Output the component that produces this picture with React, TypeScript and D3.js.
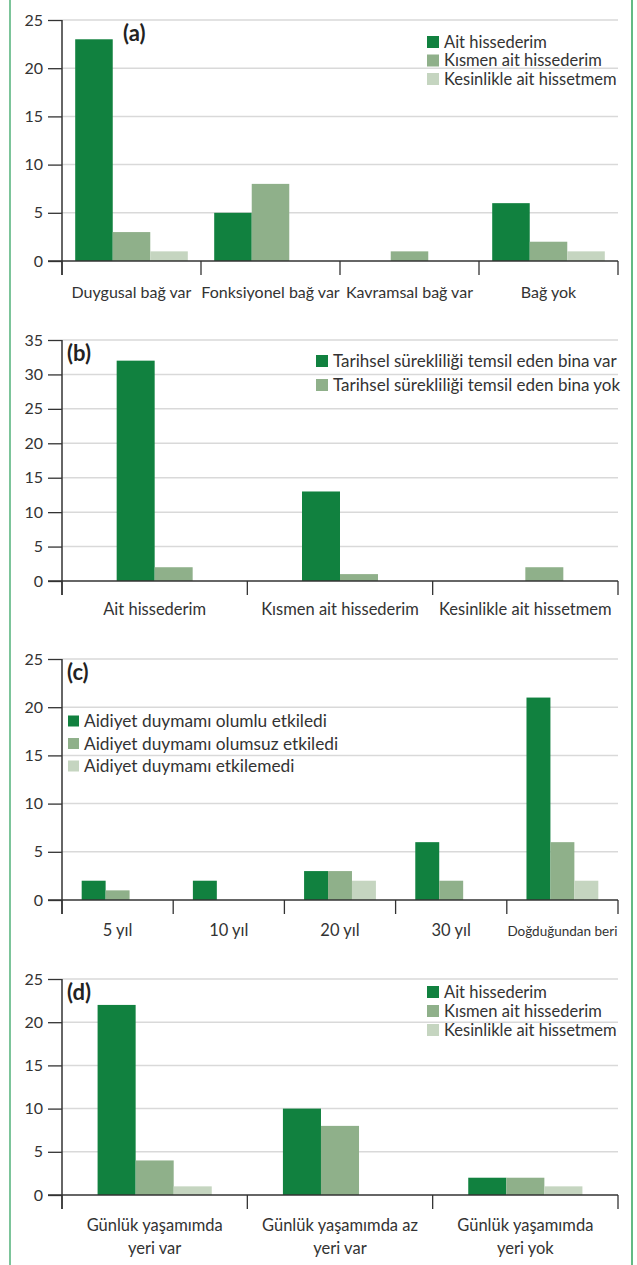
import React, { useEffect, useRef } from 'react';
import * as d3 from 'd3';

// (a)
const catsA = ['Duygusal bağ var', 'Fonksiyonel bağ var', 'Kavramsal bağ var', 'Bağ yok'];
const seriesA = ['Ait hissederim', 'Kısmen ait hissederim', 'Kesinlikle ait hissetmem'];
const aitA = [23, 5, 0, 6];
const kismenA = [3, 8, 1, 2];
const kesinA = [1, 0, 0, 1];

// (b)
const catsB = ['Ait hissederim', 'Kısmen ait hissederim', 'Kesinlikle ait hissetmem'];
const seriesB = ['Tarihsel sürekliliği temsil eden bina var', 'Tarihsel sürekliliği temsil eden bina yok'];
const binaVar = [32, 13, 0];
const binaYok = [2, 1, 2];

// (c)
const catsC = ['5 yıl', '10 yıl', '20 yıl', '30 yıl', 'Doğduğundan beri'];
const seriesC = ['Aidiyet duymamı olumlu etkiledi', 'Aidiyet duymamı olumsuz etkiledi', 'Aidiyet duymamı etkilemedi'];
const olumlu = [2, 2, 3, 6, 21];
const olumsuz = [1, 0, 3, 2, 6];
const etkilemedi = [0, 0, 2, 0, 2];

// (d)
const catsD = ['Günlük yaşamımda\nyeri var', 'Günlük yaşamımda az\nyeri var', 'Günlük yaşamımda\nyeri yok'];
const aitD = [22, 10, 2];
const kismenD = [4, 8, 2];
const kesinD = [1, 0, 1];

const ticksAC = [0, 5, 10, 15, 20, 25];
const ticksB = [0, 5, 10, 15, 20, 25, 30, 35];

const colors = ['#11813f', '#8fb08a', '#c5d5c0'];
const FONT = 'Lato, "Open Sans", sans-serif';

type Panel = {
  tag: string;
  tagX: number;
  top: number;
  bottom: number;
  max: number;
  ticks: number[];
  cats: string[];
  values: number[][];
  series: string[];
  slots: number;
  pad: number;
  legend: { x: number; y: number; step: number; size: number; font: number };
  labelY: number;
  labelFont: (c: string) => number;
};

const panels: Panel[] = [
  {
    tag: '(a)', tagX: 123, top: 20, bottom: 261, max: 25, ticks: ticksAC, cats: catsA,
    values: [aitA, kismenA, kesinA], series: seriesA, slots: 3, pad: 0.095,
    legend: { x: 427, y: 42, step: 18.5, size: 12, font: 16.5 }, labelY: 298,
    labelFont: () => 16,
  },
  {
    tag: '(b)', tagX: 67, top: 340, bottom: 581, max: 35, ticks: ticksB, cats: catsB,
    values: [binaVar, binaYok], series: seriesB, slots: 2, pad: 0.295,
    legend: { x: 316, y: 361, step: 24, size: 12, font: 17 }, labelY: 615,
    labelFont: () => 16.5,
  },
  {
    tag: '(c)', tagX: 67, top: 659, bottom: 900, max: 25, ticks: ticksAC, cats: catsC,
    values: [olumlu, olumsuz, etkilemedi], series: seriesC, slots: 3, pad: 0.177,
    legend: { x: 68, y: 721, step: 22.5, size: 11, font: 17.3 }, labelY: 936,
    labelFont: (c) => (c.length > 10 ? 13.5 : 16.5),
  },
  {
    tag: '(d)', tagX: 67, top: 979, bottom: 1195, max: 25, ticks: ticksAC, cats: catsD,
    values: [aitD, kismenD, kesinD], series: seriesA, slots: 3, pad: 0.192,
    legend: { x: 427, y: 992, step: 19, size: 12, font: 16.5 }, labelY: 1231,
    labelFont: () => 16.5,
  },
];

const X0 = 62;
const X1 = 618;

const App: React.FC = () => {
  const ref = useRef<SVGSVGElement | null>(null);

  useEffect(() => {
    if (!ref.current) return;
    const svg = d3.select(ref.current);
    svg.selectAll('*').remove();

    svg.append('rect').attr('width', 637).attr('height', 1265).attr('fill', '#fff');
    svg.append('line').attr('x1', 10).attr('x2', 10).attr('y1', 0).attr('y2', 1265)
      .attr('stroke', '#7cc49a').attr('stroke-width', 2);
    svg.append('line').attr('x1', 632).attr('x2', 632).attr('y1', 0).attr('y2', 1265)
      .attr('stroke', '#2fa35b').attr('stroke-width', 1.5);

    panels.forEach((p) => {
      const g = svg.append('g').style('font-family', FONT);
      const y = d3.scaleLinear().domain([0, p.max]).range([p.bottom, p.top]);
      const x = d3.scaleBand().domain(p.cats).range([X0, X1]).paddingInner(0).paddingOuter(0);
      const inner = d3.scaleBand<number>()
        .domain(d3.range(p.slots))
        .range([x.bandwidth() * p.pad, x.bandwidth() * (1 - p.pad)]);

      // grid
      g.append('g').selectAll('line').data(p.ticks.filter((t) => t > 0)).enter().append('line')
        .attr('x1', X0).attr('x2', X1)
        .attr('y1', (d) => y(d)).attr('y2', (d) => y(d))
        .attr('stroke', '#d9d9d9').attr('stroke-width', 1.5);

      // bars
      p.values.forEach((vals, si) => {
        g.append('g').selectAll('rect').data(vals).enter().append('rect')
          .attr('x', (_, i) => x(p.cats[i])! + inner(si)!)
          .attr('y', (d) => y(d))
          .attr('width', inner.bandwidth())
          .attr('height', (d) => p.bottom - y(d))
          .attr('fill', colors[si]);
      });

      // y axis
      const yAxis = g.append('g').attr('transform', `translate(${X0},0)`)
        .call(d3.axisLeft(y).tickValues(p.ticks).tickSize(14).tickPadding(5));
      yAxis.select('.domain').attr('stroke', '#333').attr('stroke-width', 1.5)
        .attr('d', `M0,${p.bottom + 14}V${p.top}`);
      yAxis.selectAll('.tick line').attr('stroke', '#333').attr('stroke-width', 1.3);
      yAxis.selectAll('.tick text').attr('fill', '#333').style('font-size', '16px')
        .style('font-family', FONT);

      // x axis
      const xa = g.append('g');
      xa.append('line').attr('x1', X0 - 14).attr('x2', X1).attr('y1', p.bottom).attr('y2', p.bottom)
        .attr('stroke', '#333').attr('stroke-width', 1.5);
      const edges = p.cats.map((c) => x(c)!).concat([X1]);
      xa.selectAll('line.edge').data(edges).enter().append('line').attr('class', 'edge')
        .attr('x1', (d) => d).attr('x2', (d) => d)
        .attr('y1', p.bottom).attr('y2', p.bottom + 14)
        .attr('stroke', '#333').attr('stroke-width', 1.3);
      p.cats.forEach((c) => {
        const cx = x(c)! + x.bandwidth() / 2;
        const t = xa.append('text')
          .attr('x', cx)
          .attr('y', p.labelY)
          .attr('text-anchor', 'middle')
          .attr('fill', '#333')
          .style('font-size', `${p.labelFont(c)}px`);
        c.split('\n').forEach((l, li) => {
          t.append('tspan').attr('x', cx).attr('dy', li === 0 ? 0 : 23).text(l);
        });
      });

      // tag
      g.append('text').attr('x', p.tagX).attr('y', p.top + 21)
        .attr('fill', '#222').style('font-weight', 'bold').style('font-size', '22px')
        .text(p.tag);

      // legend
      const lg = g.append('g');
      p.series.forEach((s, i) => {
        const cy = p.legend.y + i * p.legend.step;
        lg.append('rect').attr('x', p.legend.x).attr('y', cy - p.legend.size / 2)
          .attr('width', p.legend.size).attr('height', p.legend.size).attr('fill', colors[i]);
        lg.append('text').attr('x', p.legend.x + p.legend.size + 5).attr('y', cy)
          .attr('dy', '0.35em').attr('fill', '#333')
          .style('font-size', `${p.legend.font}px`).text(s);
      });
    });
  }, []);

  return (
    <div style={{ position: 'absolute', left: 0, top: 0 }}>
      <svg ref={ref} width={637} height={1265} style={{ display: 'block' }} />
    </div>
  );
};

export default App;
